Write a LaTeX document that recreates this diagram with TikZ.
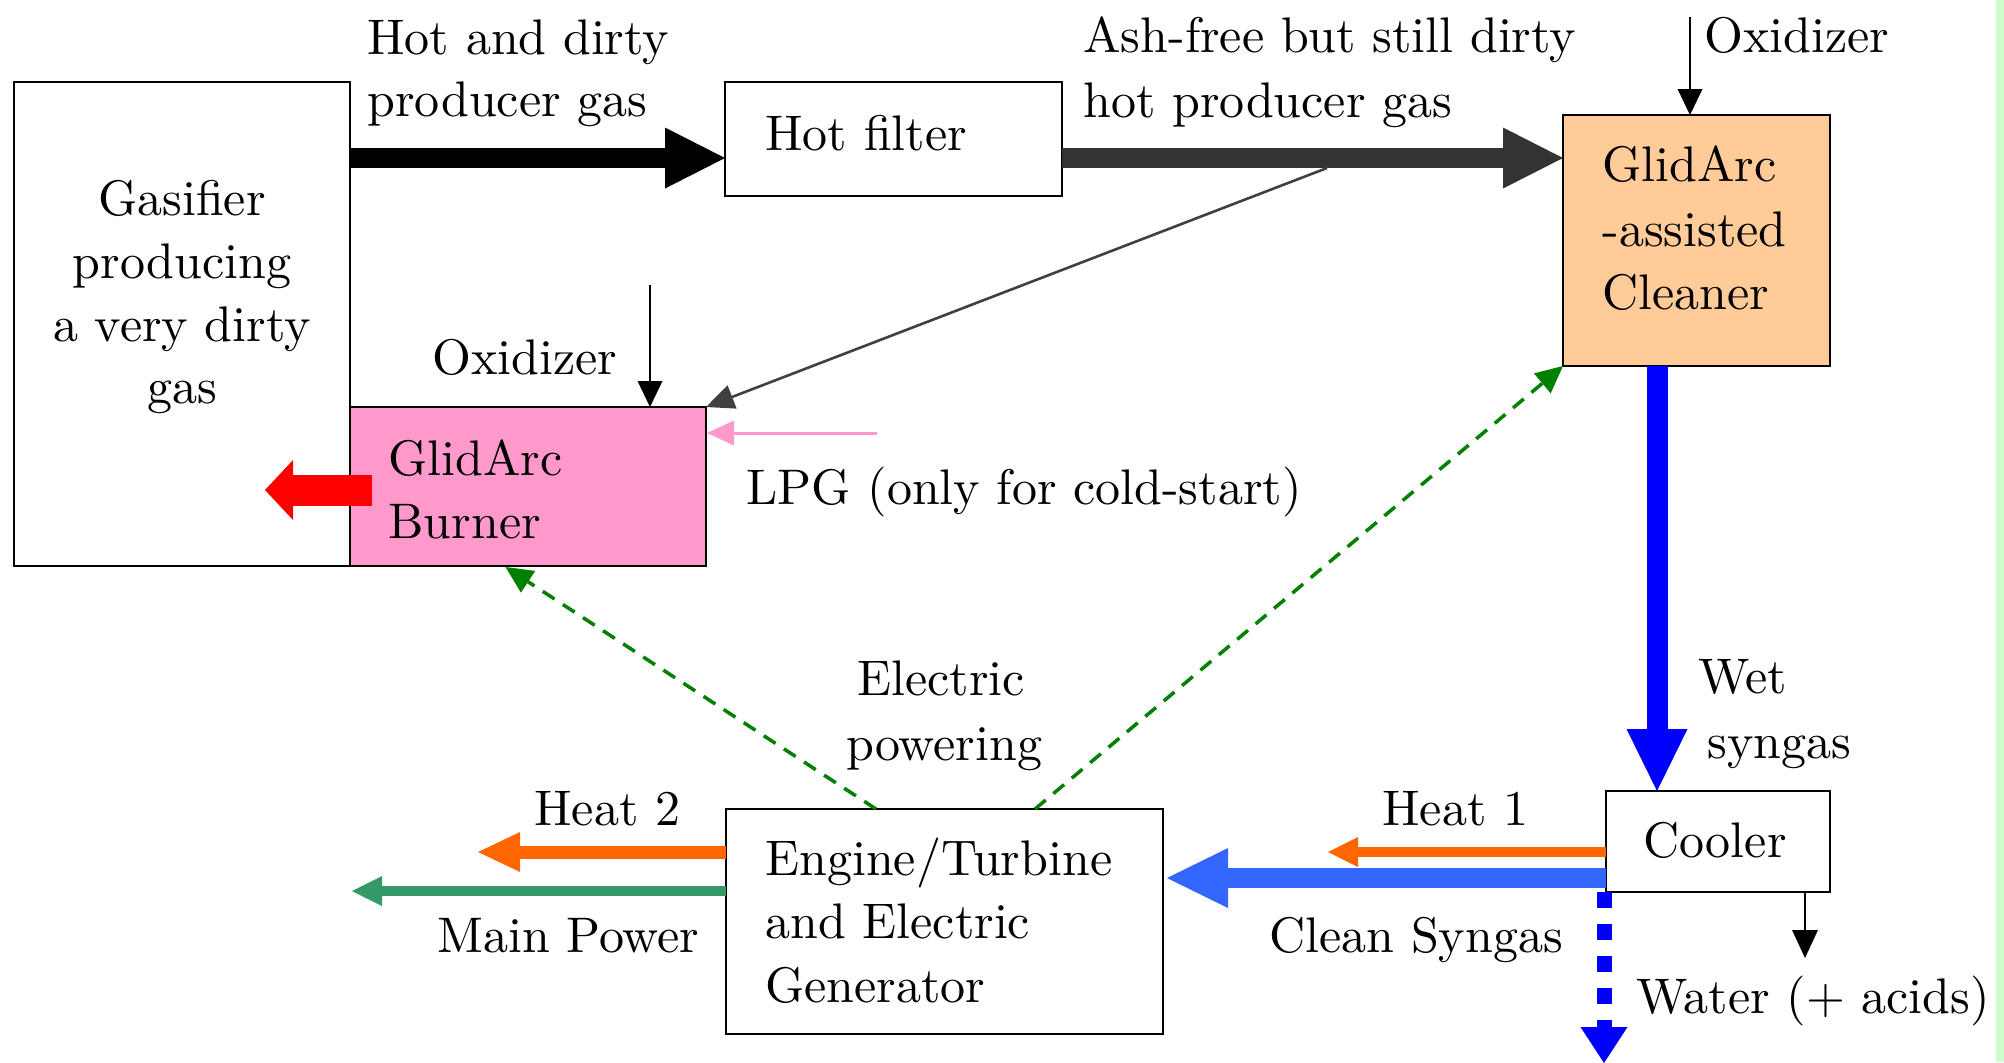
\documentclass[tikz,border=0pt]{standalone}
\usepackage{fontspec}
\setmainfont{lmroman10-regular.otf}
\usetikzlibrary{arrows.meta,calc}
\definecolor{darkarrow}{HTML}{333333}
\definecolor{diaggray}{HTML}{404040}
\definecolor{cleanerfill}{HTML}{FFCC99}
\definecolor{burnerfill}{HTML}{FF99CC}
\definecolor{lpgpink}{HTML}{FF99CC}
\definecolor{syngasblue}{HTML}{3366FF}
\definecolor{heatorange}{HTML}{FF6600}
\definecolor{powergreen}{HTML}{339966}
\definecolor{elecgreen}{HTML}{008000}
\definecolor{stripgreen}{HTML}{CCFFCC}
\begin{document}
\begin{tikzpicture}[x=0.5pt,y=-0.5pt,
  box/.style={draw=black,line width=1pt,inner sep=0pt,outer sep=0pt,anchor=north west},
  txt/.style={font=\fontsize{25pt}{30pt}\selectfont,inner sep=0pt,anchor=base west},
  ctxt/.style={txt,anchor=base},
  thinarrow/.style={draw=black,line width=0.9pt,-{Triangle[length=13pt,width=12.5pt,line width=0pt]}},
  bigflow/.style={line width=10pt,-{Triangle[length=30pt,width=30.5pt,line width=0pt]}},
  elecline/.style={draw=elecgreen,line width=1.75pt,dash pattern=on 7pt off 5pt,-{Triangle[length=13.5pt,width=13pt,line width=0pt]}}
]
% background and margins
\fill[white] (0,0) rectangle (2004,1062);
\fill[stripgreen] (1996,0) rectangle (2004,1062);
\useasboundingbox (0,0) rectangle (2004,1062);

% boxes
\node[box,minimum width=167.75pt,minimum height=242pt] (gas) at (14,82) {};
\node[box,minimum width=168.5pt,minimum height=57pt] (hf) at (725,82) {};
\node[box,fill=cleanerfill,minimum width=133.5pt,minimum height=125.5pt] (cl) at (1563,115) {};
\node[box,fill=burnerfill,minimum width=178.25pt,minimum height=79.5pt] (bu) at (349.5,407) {};
\node[box,minimum width=112pt,minimum height=50.5pt] (co) at (1606,791) {};
\node[box,minimum width=218.5pt,minimum height=112.5pt] (en) at (726,809) {};

% free ends
\coordinate (split) at ($(hf.north east)+(265,86)$);
\coordinate (oxa) at ($(cl.north west)+(127,-98)$);
\coordinate (oxb) at ($(bu.north west)+(300.5,-122)$);
\coordinate (lpg) at ($(bu.north east)+(171,26)$);
\coordinate (heatout) at ($(bu.north west)+(-84.5,83)$);
\coordinate (heatonetip) at ($(co.north west)+(-278,61)$);
\coordinate (heattwotip) at ($(en.north west)+(-248,43)$);
\coordinate (powertip) at ($(en.north west)+(-374,82)$);
\coordinate (watertip) at ($(co.south east)+(-25,66)$);
\coordinate (drain) at ($(co.south west)+(-2,171)$);

% main gas flows
\draw[bigflow,draw=black] ($(gas.north east)+(0,76)$) -- ($(hf.north west)+(0,76)$);
\draw[bigflow,draw=darkarrow] ($(hf.north east)+(0,76)$) -- ($(cl.north west)+(0,43)$);
\draw[draw=diaggray,line width=1.3pt,-{Triangle[length=14pt,width=12.5pt,line width=0pt]}] (split) -- (bu.north east);
\draw[thinarrow] (oxa) -- ($(cl.north west)+(127,0)$);
\draw[thinarrow] (oxb) -- ($(bu.north west)+(300.5,0)$);
\draw[draw=lpgpink,line width=1.5pt,-{Triangle[length=13.5pt,width=12.5pt,line width=0pt]}] (lpg) -- ($(bu.north east)+(1,26)$);
\draw[draw=red,line width=15.5pt,-{Triangle[length=14pt,width=30pt,line width=0pt]}] ($(bu.north west)+(22.5,83)$) -- (heatout);
\draw[draw=blue,line width=10.5pt,-{Triangle[length=31pt,width=30.5pt,line width=0pt]}] ($(cl.south west)+(94,0)$) -- ($(co.north west)+(51,0)$);
\draw[draw=heatorange,line width=5pt,-{Triangle[length=15pt,width=15pt,line width=0pt]}] ($(co.north west)+(0,61)$) -- (heatonetip);
\draw[draw=syngasblue,line width=10pt,-{Triangle[length=30.5pt,width=30pt,line width=0pt]}] ($(co.north west)+(0,87)$) -- ($(en.north east)+(4,69)$);
\draw[draw=heatorange,line width=6.5pt,-{Triangle[length=21pt,width=20pt,line width=0pt]}] ($(en.north west)+(0,43)$) -- (heattwotip);
\draw[draw=powergreen,line width=5pt,-{Triangle[length=15pt,width=15pt,line width=0pt]}] ($(en.north west)+(0,82)$) -- (powertip);
\draw[thinarrow,-{Triangle[length=14pt,width=13pt,line width=0pt]}] ($(co.south east)+(-25,0)$) -- (watertip);
\draw[draw=blue,line width=7.5pt,dash pattern=on 8pt off 8pt,-{Triangle[length=18pt,width=23.5pt,line width=0pt]}] ($(co.south west)+(-2,0)$) -- (drain);
\draw[elecline] ($(en.north west)+(150,0)$) -- ($(bu.south west)+(156,1)$);
\draw[elecline] ($(en.north west)+(309,0)$) -- (cl.south west);

% texts
\node[txt] (t1) at (367,54) {Hot and dirty};
\node[txt] (t2) at (367,116.5) {producer gas};
\node[txt] (t3) at (765,150) {Hot filter};
\node[txt] (t4) at (1083,52) {Ash-free but still dirty};
\node[txt] (t5) at (1083,117.5) {hot producer gas};
\node[txt] (t6) at (1704,52) {Oxidizer};
\node[txt] (t7) at (1602,181) {GlidArc};
\node[txt] (t8) at (1602,246) {-assisted};
\node[txt] (t9) at (1602,309) {Cleaner};
\node[ctxt] (t10) at (182,215) {Gasifier};
\node[ctxt] (t11) at (182,278) {producing};
\node[ctxt] (t12) at (182,341) {a very dirty};
\node[ctxt] (t13) at (182,403) {gas};
\node[txt] (t14) at (432,374) {Oxidizer};
\node[txt] (t15) at (388,475) {GlidArc};
\node[txt] (t16) at (388,538) {Burner};
\node[txt] (t17) at (746,504) {LPG (only for cold-start)};
\node[ctxt] (t18) at (941,695) {Electric};
\node[ctxt] (t19) at (944,760) {powering};
\node[txt] (t20) at (534,825) {Heat 2};
\node[txt] (t21) at (1382,825) {Heat 1};
\node[txt] (t22) at (1698,693) {Wet};
\node[txt] (t23) at (1707,758) {syngas};
\node[txt] (t24) at (1643,857) {Cooler};
\node[txt] (t25) at (765,875) {Engine/Turbine};
\node[txt] (t26) at (765,938) {and Electric};
\node[txt] (t27) at (765,1002) {Generator};
\node[txt] (t28) at (437,952) {Main Power};
\node[txt] (t29) at (1269,952) {Clean Syngas};
\node[txt] (t30) at (1636,1013) {Water (+ acids)};
\end{tikzpicture}
\end{document}
